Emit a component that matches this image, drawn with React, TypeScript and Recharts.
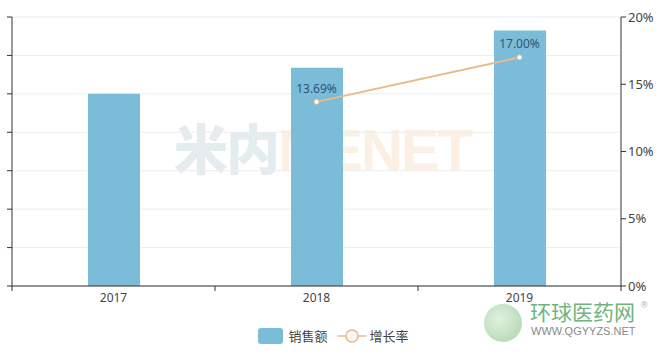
import React from "react";
import {
  Bar,
  CartesianGrid,
  ComposedChart,
  LabelList,
  Line,
  XAxis,
  YAxis,
} from "recharts";

const years = ["2017", "2018", "2019"];
const salesValues = [5.0, 5.68, 6.65];
const growthRates: (number | null)[] = [null, 13.69, 17.0];
const leftTicks = [0, 1, 2, 3, 4, 5, 6, 7];
const rightTicks = [0, 5, 10, 15, 20];

const chartData = years.map((year, i) => ({
  year,
  sales: salesValues[i],
  growth: growthRates[i],
}));

const WIDTH = 659;
const HEIGHT = 355;
const MARGIN = { top: 17, right: 0, bottom: 0, left: 0 };
const LEFT_AXIS_W = 12;
const RIGHT_AXIS_W = 38;
const BAND = (WIDTH - LEFT_AXIS_W - RIGHT_AXIS_W) / years.length;

const BAR_COLOR = "#7bbcd8";
const LINE_COLOR = "#e9b98a";
const FONT = "'Noto Sans', 'Noto Sans CJK SC', sans-serif";

function YearTick(props: any) {
  const { x, y, payload, index } = props;
  const axisY = y - 7;
  const left = x - BAND / 2;
  return (
    <g>
      <line x1={left} y1={axisY} x2={left} y2={axisY + 5} stroke="#333" />
      {index === years.length - 1 && (
        <line x1={x + BAND / 2} y1={axisY} x2={x + BAND / 2} y2={axisY + 5} stroke="#333" />
      )}
      <text x={x} y={y} dy="0.75em" textAnchor="middle" fill="#444" fontSize={12} fontFamily={FONT}>
        {payload.value}
      </text>
    </g>
  );
}

function ChartLegend() {
  return (
    <div
      style={{
        position: "absolute",
        left: 0,
        top: 326,
        width: WIDTH,
        display: "flex",
        justifyContent: "center",
        alignItems: "center",
        fontFamily: FONT,
        fontSize: 13,
        color: "#444",
        paddingLeft: 8,
        boxSizing: "border-box",
      }}
    >
      <span
        style={{
          display: "inline-block",
          width: 25,
          height: 16,
          borderRadius: 3,
          background: BAR_COLOR,
          marginRight: 5,
        }}
      />
      <span style={{ marginRight: 10 }}>销售额</span>
      <svg width={28} height={16} style={{ marginRight: 4 }}>
        <line x1={0} y1={8} x2={28} y2={8} stroke={LINE_COLOR} strokeWidth={1.5} />
        <circle cx={14} cy={8} r={6} fill="#fdf6ee" stroke={LINE_COLOR} strokeWidth={1.5} />
      </svg>
      <span>增长率</span>
    </div>
  );
}

export default function App() {
  return (
    <div
      style={{
        position: "fixed",
        left: 0,
        top: 0,
        width: WIDTH,
        height: HEIGHT,
        background: "#fff",
      }}
    >
      <div
        style={{
          position: "absolute",
          left: 174,
          top: 120,
          fontFamily: "'Noto Sans CJK SC', sans-serif",
          fontWeight: 900,
          fontSize: 54,
          letterSpacing: -2,
          lineHeight: 1,
          whiteSpace: "nowrap",
        }}
      >
        <span style={{ color: "#e4ecf0" }}>米内</span>
        <span style={{ color: "#fcefe4", fontFamily: "'Liberation Sans', sans-serif", fontSize: 58 }}>
          MENET
        </span>
      </div>
      <div style={{ position: "absolute", left: 0, top: 0 }}>
        <ComposedChart width={WIDTH} height={HEIGHT} data={chartData} margin={MARGIN}>
          <CartesianGrid yAxisId="left" vertical={false} stroke="#ececec" />
          <XAxis
            dataKey="year"
            height={69}
            stroke="#333"
            tickLine={false}
            tickSize={5}
            tickMargin={2}
            tick={<YearTick />}
          />
          <YAxis
            yAxisId="left"
            width={LEFT_AXIS_W}
            domain={[0, 7]}
            ticks={leftTicks}
            stroke="#333"
            tickSize={5}
            tick={() => <g />}
          />
          <YAxis
            yAxisId="right"
            orientation="right"
            width={RIGHT_AXIS_W}
            domain={[0, 20]}
            ticks={rightTicks}
            stroke="#333"
            tickSize={5}
            tickMargin={2}
            tickFormatter={(v: number) => `${v}%`}
            tick={{ fill: "#444", fontSize: 13, fontFamily: FONT }}
          />
          <Bar
            yAxisId="left"
            dataKey="sales"
            name="销售额"
            fill={BAR_COLOR}
            barSize={52}
            isAnimationActive={false}
          />
          <Line
            yAxisId="right"
            dataKey="growth"
            name="增长率"
            stroke={LINE_COLOR}
            strokeWidth={2}
            dot={{ r: 2.5, fill: "#fff", stroke: LINE_COLOR, strokeWidth: 1 }}
            isAnimationActive={false}
          >
            <LabelList
              dataKey="growth"
              position="top"
              offset={9}
              formatter={(v: any) => (v == null ? "" : `${Number(v).toFixed(2)}%`)}
              fill="#2f5577"
              fontSize={12}
              fontFamily={FONT}
            />
          </Line>
        </ComposedChart>
      </div>
      <ChartLegend />
      <div
        style={{
          position: "absolute",
          left: 484,
          top: 304,
          width: 38,
          height: 38,
          borderRadius: "50%",
          background: "radial-gradient(circle at 40% 40%, #d8ecd2, #8cc692)",
          opacity: 0.75,
        }}
      />
      <div
        style={{
          position: "absolute",
          left: 530,
          top: 298,
          fontFamily: "'Noto Sans CJK SC', sans-serif",
          color: "#6fb57c",
          fontSize: 21,
          lineHeight: "26px",
          whiteSpace: "nowrap",
        }}
      >
        环球医药网
      </div>
      <div
        style={{
          position: "absolute",
          left: 641,
          top: 300,
          fontFamily: "'Liberation Sans', sans-serif",
          color: "#aaa",
          fontSize: 9,
          lineHeight: "10px",
        }}
      >
        ®
      </div>
      <div
        style={{
          position: "absolute",
          left: 531,
          top: 325,
          fontFamily: "'Liberation Sans', sans-serif",
          color: "#8a8a8a",
          fontSize: 11,
          lineHeight: "12px",
          whiteSpace: "nowrap",
        }}
      >
        WWW.QGYYZS.NET
      </div>
    </div>
  );
}
